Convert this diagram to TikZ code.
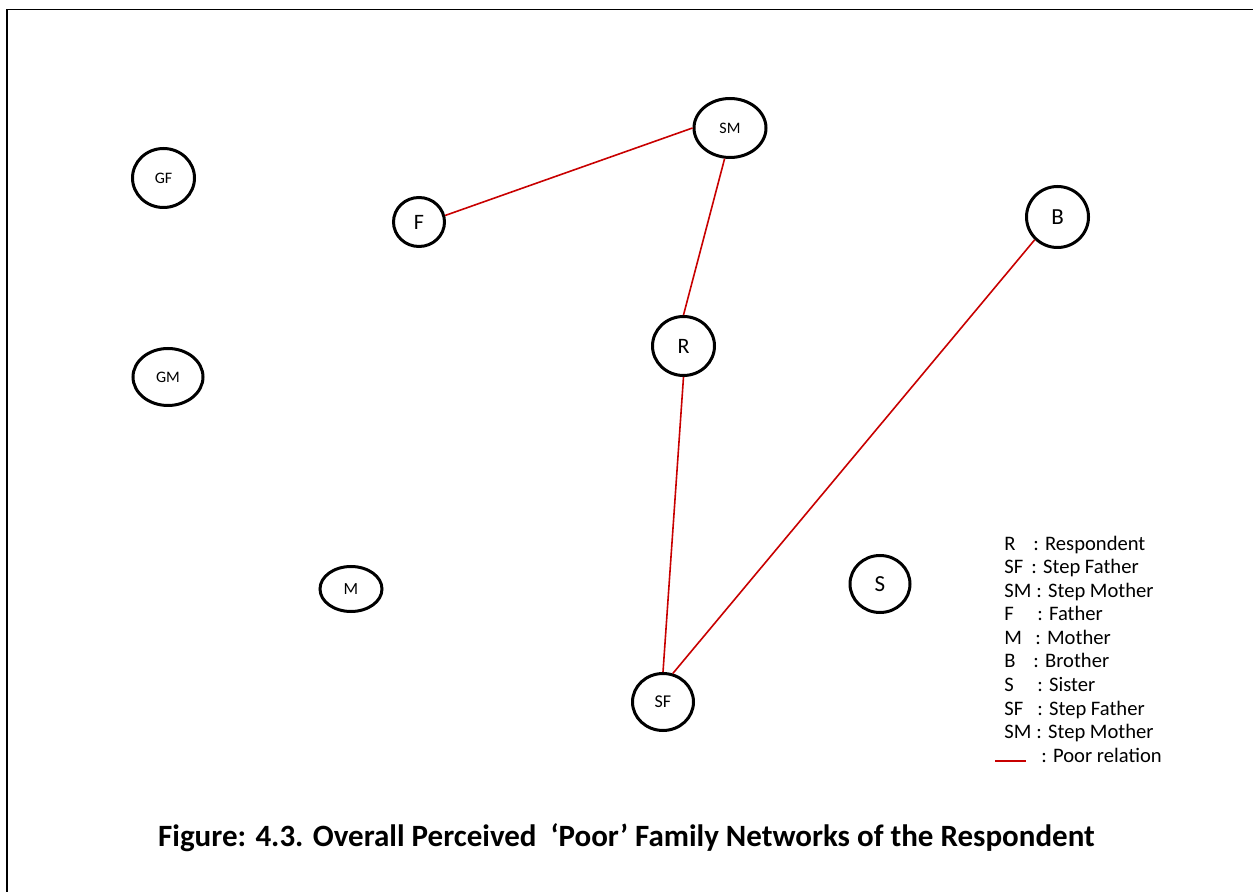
\documentclass[tikz,border=0pt]{standalone}
\usepackage{fontspec}
\setmainfont{Carlito}
\usetikzlibrary{shapes.geometric}
\definecolor{poor}{RGB}{200,0,0}
\tikzset{
  person/.style={draw, ellipse, line width=1.5pt, inner sep=0pt},
  rel/.style={draw=poor, line width=0.8pt},
  leg/.style={anchor=base west, inner sep=0pt, font=\fontsize{10.3}{12}\selectfont},
}
\begin{document}
\begin{tikzpicture}[x=0.5pt,y=-0.5pt]
\useasboundingbox (0,0) rectangle (1253,892);
\draw[line width=0.8pt] (7,892) -- (7,9.5) -- (1253,9.5);

\node[person, minimum width=31pt, minimum height=29.5pt, font=\fontsize{8}{9}\selectfont] (GF) at (163.5,178) {GF};
\node[person, minimum width=35pt, minimum height=28.5pt, font=\fontsize{8}{9}\selectfont] (GM) at (168,377) {GM};
\node[person, minimum width=25.5pt, minimum height=24.5pt, font=\fontsize{11}{12}\selectfont] (F) at (419,222) {F};
\node[person, minimum width=36pt, minimum height=29.5pt, font=\fontsize{8}{9}\selectfont] (SM) at (730,128) {SM};
\node[person, minimum width=31pt, minimum height=29.5pt, font=\fontsize{11}{12}\selectfont] (R) at (683.5,346) {R};
\node[person, minimum width=31pt, minimum height=30.5pt, font=\fontsize{11.5}{13}\selectfont] (B) at (1057.5,217) {B};
\node[person, minimum width=31pt, minimum height=22.5pt, font=\fontsize{8.5}{10}\selectfont] (M) at (351,589) {M};
\node[person, minimum width=30pt, minimum height=28.5pt, font=\fontsize{11.5}{13}\selectfont] (S) at (880,584) {S};
\node[person, minimum width=30.5pt, minimum height=28.5pt, font=\fontsize{9}{10}\selectfont] (SF) at (663,702) {SF};

\draw[rel] (F.14) -- (SM.180);
\draw[rel] (SM.-100) -- (R.90);
\draw[rel] (R.-90) -- (SF.90);
\draw[rel] (B.225) -- (SF.71);

% legend
\node[leg] (l1a) at (1004,550.5) {R};   \node[leg] (l1b) at (1033,550.5) {: Respondent};
\node[leg] (l2a) at (1004,574) {SF};    \node[leg] (l2b) at (1031,574) {: Step Father};
\node[leg] (l3a) at (1004,597.5) {SM};  \node[leg] (l3b) at (1036,597.5) {: Step Mother};
\node[leg] (l4a) at (1004,621) {F};     \node[leg] (l4b) at (1037,621) {: Father};
\node[leg] (l5a) at (1004,644.5) {M};   \node[leg] (l5b) at (1035,644.5) {: Mother};
\node[leg] (l6a) at (1004,668) {B};     \node[leg] (l6b) at (1033,668) {: Brother};
\node[leg] (l7a) at (1004,691.5) {S};   \node[leg] (l7b) at (1037,691.5) {: Sister};
\node[leg] (l8a) at (1004,715) {SF};    \node[leg] (l8b) at (1037,715) {: Step Father};
\node[leg] (l9a) at (1004,738.5) {SM};  \node[leg] (l9b) at (1036,738.5) {: Step Mother};
\coordinate (ls) at (995,760.5); \coordinate (le) at (1026,760.5);
\draw[rel, line width=1pt] (ls) -- (le);
\node[leg] (l10b) at (1041,762) {: Poor relation};

\node[anchor=base, inner sep=0pt, font=\bfseries\fontsize{15.5}{18}\selectfont] (title) at (626.5,846)
  {Figure: 4.3. Overall Perceived \ ‘Poor’ Family Networks of the Respondent};
\end{tikzpicture}
\end{document}
